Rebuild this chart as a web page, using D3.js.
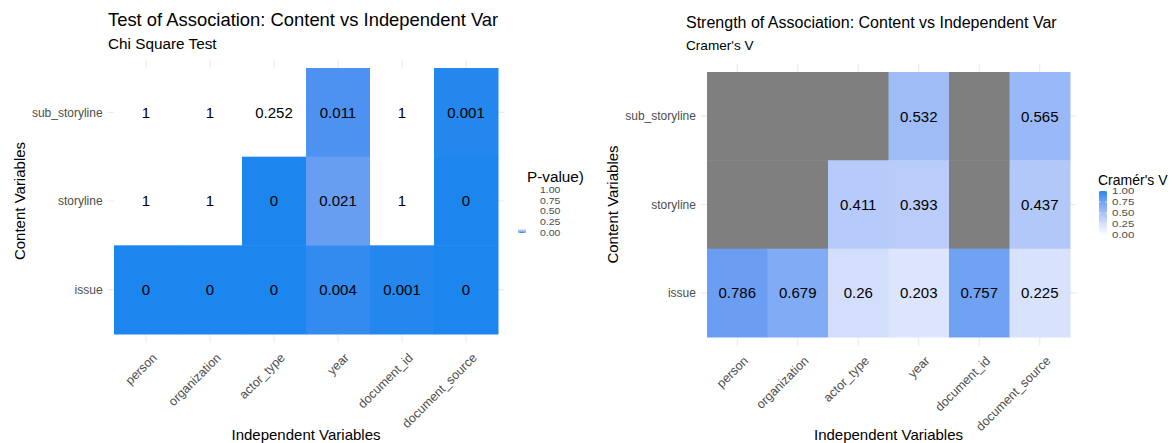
<!DOCTYPE html>
<html>
<head>
<meta charset="utf-8">
<script src="https://d3js.org/d3.v7.min.js"></script>
<style>
  body { margin: 0; background: #fff; }
  text { font-family: "Liberation Sans", Arial, sans-serif; }
</style>
</head>
<body>
<svg id="chart" width="1173" height="443"></svg>
<script>
// data
var indepVars = ["person", "organization", "actor_type", "year", "document_id", "document_source"];
var contentVars = ["sub_storyline", "storyline", "issue"]; // top to bottom
var pSubStoryline = [1, 1, 0.252, 0.011, 1, 0.001];
var pStoryline = [1, 1, 0, 0.021, 1, 0];
var pIssue = [0, 0, 0, 0.004, 0.001, 0];
var vSubStoryline = [null, null, null, 0.532, null, 0.565];
var vStoryline = [null, null, 0.411, 0.393, null, 0.437];
var vIssue = [0.786, 0.679, 0.26, 0.203, 0.757, 0.225];
var legendBreaks = [0, 0.25, 0.5, 0.75, 1];

var BLUE = "#1C86EE", NA_COL = "#7F7F7F";
var svg = d3.select("#chart");

function toCells(rowsVals) {
    var cells = [];
    contentVars.forEach(function (r, i) {
        indepVars.forEach(function (c, j) {
            cells.push({ row: r, col: c, value: rowsVals[i][j] });
        });
    });
    return cells;
}

function drawPanel(cfg) {
    var g = svg.append("g"), x, y;
    x = d3.scaleBand().domain(indepVars).range([cfg.left, cfg.right]);
    y = d3.scaleBand().domain(contentVars).range([cfg.top, cfg.bottom]);
    var padX = x.bandwidth() * 0.1, padY = y.bandwidth() * 0.1;

    // grid
    g.append("g").selectAll("line").data(indepVars).enter().append("line")
        .attr("x1", function (d) { return x(d) + x.bandwidth() / 2; })
        .attr("x2", function (d) { return x(d) + x.bandwidth() / 2; })
        .attr("y1", cfg.top - padY).attr("y2", cfg.bottom + padY)
        .attr("stroke", "#ebebeb").attr("stroke-width", 1.1);
    g.append("g").selectAll("line").data(contentVars).enter().append("line")
        .attr("y1", function (d) { return y(d) + y.bandwidth() / 2; })
        .attr("y2", function (d) { return y(d) + y.bandwidth() / 2; })
        .attr("x1", cfg.left - padX).attr("x2", cfg.right + padX)
        .attr("stroke", "#ebebeb").attr("stroke-width", 1.1);

    // tiles
    g.append("g").selectAll("rect").data(cfg.cells).enter().append("rect")
        .attr("x", function (d) { return x(d.col); })
        .attr("y", function (d) { return y(d.row); })
        .attr("width", x.bandwidth() + 0.5)
        .attr("height", y.bandwidth() + 0.5)
        .attr("fill", function (d) { return d.value == null ? NA_COL : cfg.color(d.value); });

    g.append("g").selectAll("text").data(cfg.cells.filter(function (d) { return d.value != null; }))
        .enter().append("text")
        .attr("x", function (d) { return x(d.col) + x.bandwidth() / 2; })
        .attr("y", function (d) { return y(d.row) + y.bandwidth() / 2; })
        .attr("dy", "0.36em")
        .attr("text-anchor", "middle")
        .style("font-size", "15px")
        .text(function (d) { return d.value; });

    // axes labels
    g.append("g").selectAll("text").data(contentVars).enter().append("text")
        .attr("x", cfg.left - padX - 5)
        .attr("y", function (d) { return y(d) + y.bandwidth() / 2; })
        .attr("dy", "0.35em").attr("text-anchor", "end")
        .style("font-size", "12px").attr("fill", "#4d4d4d")
        .text(function (d) { return d; });
    g.append("g").selectAll("text").data(indepVars).enter().append("text")
        .attr("transform", function (d) {
            return "translate(" + (x(d) + x.bandwidth() / 2 + 5) + "," + (cfg.bottom + padY + 9) + ") rotate(-45)";
        })
        .attr("dy", "0.75em").attr("text-anchor", "end")
        .style("font-size", "12.5px").attr("fill", "#4d4d4d")
        .text(function (d) { return d; });

    g.append("text")
        .attr("x", (cfg.left + cfg.right) / 2).attr("y", 440)
        .attr("text-anchor", "middle").style("font-size", "15px")
        .text("Independent Variables");
    g.append("text")
        .attr("transform", "translate(" + cfg.yTitleX + "," + (cfg.top + cfg.bottom) / 2 + ") rotate(-90)")
        .attr("text-anchor", "middle").style("font-size", "15px")
        .text("Content Variables");

    // titles
    g.append("text").attr("x", cfg.titleX).attr("y", cfg.titleY)
        .style("font-size", cfg.titleSize + "px").text(cfg.title);
    g.append("text").attr("x", cfg.titleX).attr("y", cfg.subY)
        .style("font-size", cfg.subSize + "px").text(cfg.subtitle);

    // legend
    var lg = cfg.legend, gid = "grad" + cfg.id;
    var grad = svg.append("defs").append("linearGradient").attr("id", gid)
        .attr("x1", 0).attr("y1", 1).attr("x2", 0).attr("y2", 0);
    d3.range(0, 1.001, 0.02).forEach(function (t) {
        grad.append("stop").attr("offset", t).attr("stop-color", cfg.color(t));
    });
    var ly = d3.scaleLinear().domain([0, 1]).range([lg.y1, lg.y0]);
    g.append("text").attr("x", lg.titleX).attr("y", lg.titleY)
        .style("font-size", lg.titleSize + "px").text(lg.title);
    g.append("rect").attr("x", lg.x).attr("y", lg.y0)
        .attr("width", 8).attr("height", lg.y1 - lg.y0)
        .attr("fill", "url(#" + gid + ")");
    g.append("g").selectAll("line").data(legendBreaks).enter().append("line")
        .attr("x1", lg.x).attr("x2", lg.x + 1.6)
        .attr("y1", ly).attr("y2", ly)
        .attr("stroke", "#fff").attr("stroke-width", 0.8);
    g.append("g").selectAll("line").data(legendBreaks).enter().append("line")
        .attr("x1", lg.x + 6.4).attr("x2", lg.x + 8)
        .attr("y1", ly).attr("y2", ly)
        .attr("stroke", "#fff").attr("stroke-width", 0.8);
    g.append("g").selectAll("text").data(legendBreaks).enter().append("text")
        .attr("transform", function (d) { return "translate(" + lg.labelX + "," + ly(d) + ") scale(1,0.78)"; })
        .attr("dy", "0.36em")
        .style("font-size", lg.labelSize + "px").attr("fill", "#4d4d4d")
        .text(function (d) { return d3.format(".2f")(d); });
}

var pColor = d3.scaleLinear().domain([0, 0.1, 1]).range([BLUE, "#ffffff", "#ffffff"])
    .interpolate(d3.interpolateLab).clamp(true);
var vColor = d3.scaleLinear().domain([0, 1]).range(["#ffffff", BLUE])
    .interpolate(d3.interpolateLab).clamp(true);

drawPanel({
    id: "p", cells: toCells([pSubStoryline, pStoryline, pIssue]), color: pColor,
    left: 114, right: 498, top: 68, bottom: 334, yTitleX: 25,
    title: "Test of Association: Content vs Independent Var", subtitle: "Chi Square Test",
    titleX: 108, titleY: 26, titleSize: 18.4, subY: 49, subSize: 15.3,
    legend: { x: 518, y0: 190, y1: 233, titleX: 527, titleY: 182, titleSize: 15.3,
              title: "P-value)", labelX: 540, labelSize: 10.5 }
});

drawPanel({
    id: "v", cells: toCells([vSubStoryline, vStoryline, vIssue]), color: vColor,
    left: 707, right: 1070, top: 72, bottom: 337, yTitleX: 618,
    title: "Strength of Association: Content vs Independent Var", subtitle: "Cramer's V",
    titleX: 686, titleY: 28, titleSize: 16, subY: 50, subSize: 13.6,
    legend: { x: 1099, y0: 191, y1: 235, titleX: 1098, titleY: 185, titleSize: 14,
              title: "Cramér's V", labelX: 1112, labelSize: 11.5 }
});
</script>
</body>
</html>
